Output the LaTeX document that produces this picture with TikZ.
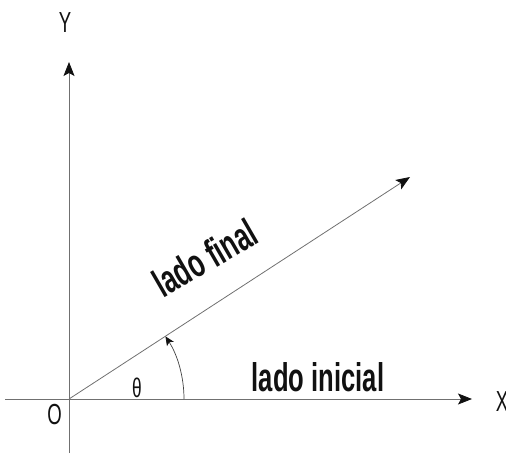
\documentclass[tikz,border=0pt]{standalone}
\usepackage{fontspec}
\setmainfont{Liberation Sans}[FakeStretch=0.64]
\usetikzlibrary{arrows.meta}
\definecolor{cAxis}{HTML}{707070}
\definecolor{cText}{HTML}{111111}
\tikzset{
  axis/.style={line width=0.8pt, draw=cAxis, -{Stealth[length=14pt, width=11pt, inset=3pt, color=cText]}},
  anglearr/.style={line width=0.7pt, draw=cText!80, -{Stealth[length=9pt, width=8pt, inset=2pt, color=cText]}},
  axlbl/.style={font=\fontsize{29}{29}\selectfont, text=cText, inner sep=0pt},
  sidelbl/.style={font=\fontsize{40}{40}\selectfont\bfseries, text=cText, inner sep=0pt}
}

\begin{document}
\begin{tikzpicture}[x=1pt, y=1pt]
\useasboundingbox (0,0) rectangle (506,453);
% axes
\coordinate (O) at (69,54);
\coordinate (ybot) at (69,0);
\coordinate (ytop) at (69,391);
\coordinate (xleft) at (5,54);
\coordinate (xright) at (472,54);
\coordinate (tip) at (410,276);
\coordinate (arcstart) at (184,54);
\draw[axis] (xleft) -- (xright);
\draw[axis] (ybot) -- (ytop);
% terminal side and angle
\draw[axis] (O) -- (tip);
\draw[anglearr] (arcstart) arc[start angle=0, end angle=33, radius=115];
% labels
\node[axlbl] (ylab) at (65,430) {Y};
\node[axlbl] (xlab) at (502,51) {X};
\node[axlbl] (olab) at (54.5,38) {O};
\node[axlbl, font=\fontsize{27}{27}\selectfont] (theta) at (137,65) {θ};
\node[sidelbl, anchor=base] (inicial) at (318,61.5) {lado inicial};
\node[sidelbl, rotate=30] (final) at (205,195) {lado final};
\end{tikzpicture}
\end{document}
